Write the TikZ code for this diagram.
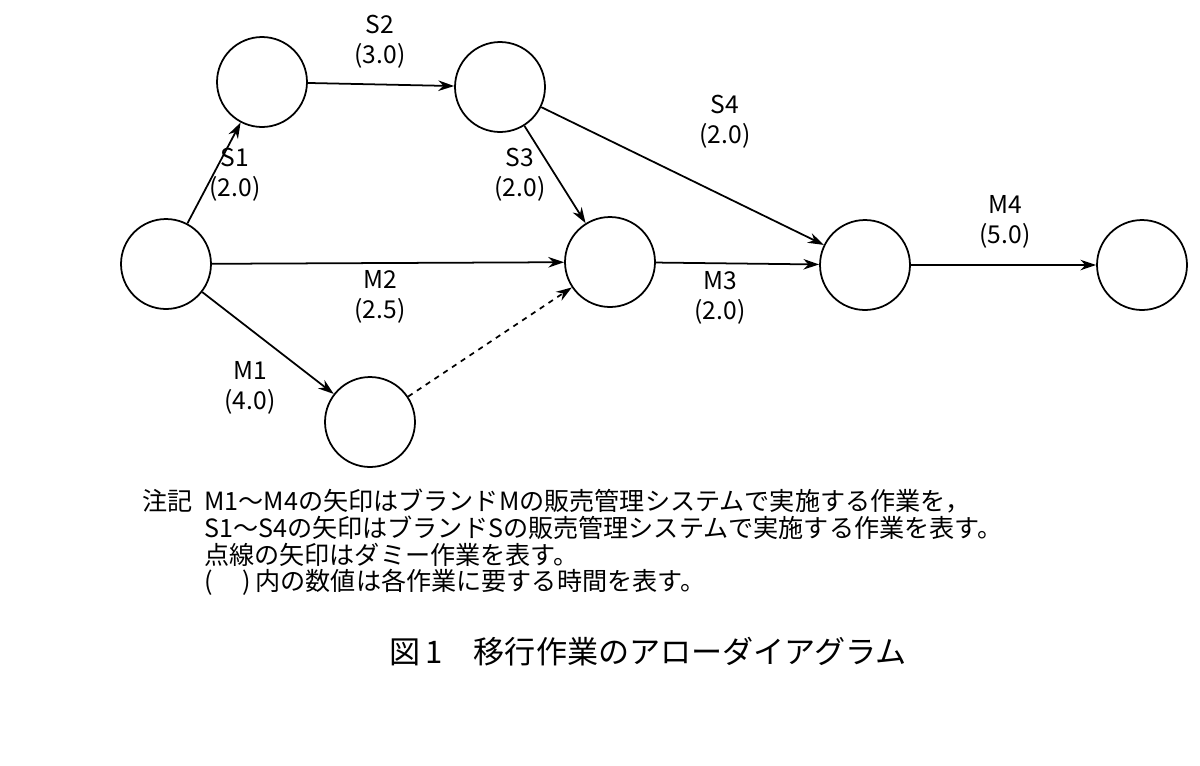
\documentclass[tikz,border=0pt]{standalone}
\usepackage{fontspec}
\setmainfont{Noto Sans CJK JP}
\usetikzlibrary{arrows.meta}
\begin{document}
\begin{tikzpicture}[x=0.02cm,y=-0.02cm,
  ev/.style={circle,draw,line width=1pt,minimum size=1.8cm,inner sep=0pt},
  act/.style={line width=1pt,-{Stealth[length=9pt,width=6pt]}},
  lab/.style={font=\fontsize{14}{17}\selectfont,align=center},
  txt/.style={font=\fontsize{14.3}{16}\selectfont,anchor=west}]
\useasboundingbox (0,0) rectangle (1200,765);
\node[ev] (A) at (166,264) {};
\node[ev] (B) at (262,82) {};
\node[ev] (C) at (500,87) {};
\node[ev] (D) at (610,262) {};
\node[ev] (E) at (865,265) {};
\node[ev] (F) at (1142,265) {};
\node[ev] (G) at (370,422) {};
\draw[act] (A) -- (B);
\draw[act] (B) -- (C);
\draw[act] (C) -- (D);
\draw[act] (C) -- (E);
\draw[act] (A) -- (D);
\draw[act] (A) -- (G);
\draw[act,dashed] (G) -- (D);
\draw[act] (D) -- (E);
\draw[act] (E) -- (F);
\node[lab] (l1) at (380,42) {S2\\(3.0)};
\node[lab] (l2) at (235,175) {S1\\(2.0)};
\node[lab] (l3) at (520,175) {S3\\(2.0)};
\node[lab] (l4) at (725,122) {S4\\(2.0)};
\node[lab] (l5) at (380,297) {M2\\(2.5)};
\node[lab] (l6) at (720,298) {M3\\(2.0)};
\node[lab] (l7) at (1005,222) {M4\\(5.0)};
\node[lab] (l8) at (250,388) {M1\\(4.0)};
\node[txt] (n0) at (136,501) {注記};
\node[txt] (n1) at (198,501) {M1〜M4の矢印はブランドMの販売管理システムで実施する作業を，};
\node[txt] (n2) at (198,528) {S1〜S4の矢印はブランドSの販売管理システムで実施する作業を表す。};
\node[txt] (n3) at (198,555) {点線の矢印はダミー作業を表す。};
\node[txt] (n4) at (198,582) {(\hspace{1.2em})\,内の数値は各作業に要する時間を表す。};
\node[font=\fontsize{17.7}{20}\selectfont] (cap) at (648,652) {図\,1\quad 移行作業のアローダイアグラム};
\end{tikzpicture}
\end{document}
